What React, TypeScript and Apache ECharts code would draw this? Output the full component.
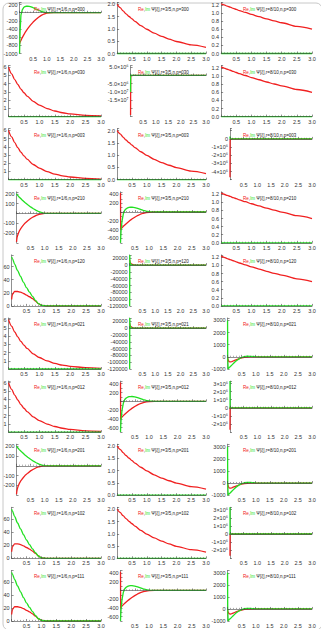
import React, { useEffect, useRef } from "react";
import * as echarts from "echarts";

const W = 321;
const H = 629;

// ---- labels ----
const ROW_NP = ["300", "030", "003", "210", "120", "021", "012", "201", "102", "111"];
const COL_R = ["1/6", "3/5", "8/10"];

// ---- curve data ----
// column 1, n,p=300
const X_A = [0, 0.01, 0.02, 0.05, 0.1, 0.15, 0.2, 0.25, 0.3, 0.35, 0.4, 0.5, 0.6, 0.7, 0.8, 0.9, 1.0, 1.1, 1.25, 1.5, 2.0, 3.0];
const RE_A = [-760, -740, -720, -680, -610, -550, -490, -438, -390, -346, -305, -230, -165, -110, -65, -32, -12, -3, 0, 0, 0, 0];
const IM_A = [-1000, -700, -450, -60, 70, 125, 150, 158, 160, 156, 148, 122, 90, 60, 33, 15, 5, 1, 0, 0, 0, 0];

// plain decays
const X_D = [0, 0.1, 0.2, 0.3, 0.4, 0.5, 0.6, 0.8, 1.0, 1.25, 1.5, 1.75, 2.0, 2.5, 3.0];
const RE_D6 = [6.0, 5.2, 4.5, 3.9, 3.35, 2.9, 2.5, 1.85, 1.4, 0.98, 0.68, 0.47, 0.33, 0.16, 0.08];
const RE_D2 = [2.0, 1.87, 1.74, 1.62, 1.51, 1.41, 1.31, 1.14, 0.99, 0.83, 0.7, 0.59, 0.49, 0.35, 0.25];
const RE_D3 = [1.23, 1.2, 1.17, 1.145, 1.115, 1.09, 1.06, 1.015, 0.965, 0.91, 0.855, 0.805, 0.76, 0.67, 0.6];
const IM_D = [0, 0, 0, 0, 0, 0, 0, 0, 0, 0, 0, 0, 0, 0, 0];

// column 1, n,p=210 / 201
const X_B = [0, 0.01, 0.02, 0.05, 0.1, 0.15, 0.2, 0.3, 0.4, 0.5, 0.6, 0.7, 0.8, 0.9, 1.0, 1.2, 1.5, 3.0];
const RE_B = [-290, -265, -245, -215, -180, -155, -135, -100, -75, -52, -35, -20, -10, -4, -1, 0, 0, 0];
const IM_B = [200, 196, 192, 181, 165, 151, 137, 110, 87, 66, 47, 31, 17, 7, 1, 0, 0, 0];

// column 1, n,p=120 / 102 / 111
const X_C = [0, 0.03, 0.1, 0.2, 0.3, 0.4, 0.5, 0.6, 0.7, 0.8, 0.9, 1.0, 1.2, 1.5, 3.0];
const RE_C = [10, 18, 22, 22, 21, 19, 16.5, 14, 11, 7.5, 3.5, 0.8, 0, 0, 0];
const IM_C = [75, 72, 64, 54, 45, 36, 28, 21, 14.5, 8.5, 3.5, 0.8, 0, 0, 0];

// column 2, n,p=210 / 012 / 111
const X_E = [0, 0.005, 0.02, 0.05, 0.1, 0.15, 0.2, 0.25, 0.3, 0.35, 0.4, 0.5, 0.6, 0.7, 0.8, 0.9, 1.0, 1.2, 1.5, 3.0];
const RE_E = [430, -400, -385, -360, -325, -295, -265, -237, -210, -184, -160, -118, -80, -50, -28, -13, -5, 0, 0, 0];
const IM_E = [-700, -600, -420, -220, -40, 40, 75, 94, 105, 109, 110, 100, 82, 60, 38, 20, 8, 0, 0, 0];

// column 2, n,p=120 / 021
const X_F = [0, 0.004, 0.01, 0.03, 0.06, 0.1, 0.2, 0.5, 3.0];
const RE_F = [15000, 12000, 9000, 6000, 4000, 2000, 500, 0, 0];
const IM_F = [-120000, 30000, 12000, 3000, 1000, 300, 0, 0, 0];

// spikes at the origin
const X_S = [0, 0.004, 0.01, 0.03, 0.1, 3.0];
const RE_G = [-24000000, -1000000, -200000, 0, 0, 0];
const IM_G = [-10000000, 500000, 100000, 0, 0, 0];
const RE_H = [-4700000, -300000, -50000, 0, 0, 0];
const IM_H = [300000, 20000, 0, 0, 0, 0];
const RE_I = [-2700000, 100000, 20000, 0, 0, 0];
const IM_I = [3300000, -100000, 0, 0, 0, 0];

// column 3, n,p=021 / 201 / 111
const X_J = [0, 0.005, 0.02, 0.05, 0.1, 0.15, 0.2, 0.25, 0.3, 0.4, 0.5, 0.6, 0.7, 0.8, 1.0, 1.2, 1.5, 3.0];
const RE_J = [0, -120, -250, -390, -420, -390, -340, -295, -250, -160, -90, -40, -15, -4, 0, 0, 0, 0];
const IM_J = [3000, 0, -1000, -900, -800, -680, -560, -450, -340, -170, -50, 25, 55, 45, 12, 0, 0, 0];

// ---- y tick values and labels ----
const YT_A = [200, 0, -200, -400, -600, -800, -1000];
const YL_A = ["200", "0", "-200", "-400", "-600", "-800", "-1000"];
const YT_B = [200, 100, -100, -200];
const YL_B = ["200", "100", "-100", "-200"];
const YT_C = [0, 20, 40, 60];
const YL_C = ["0", "20", "40", "60"];
const YT_D6 = [1, 2, 3, 4, 5, 6];
const YL_D6 = ["1", "2", "3", "4", "5", "6"];
const YT_D2 = [0, 0.5, 1, 1.5, 2];
const YL_D2 = ["0.0", "0.5", "1.0", "1.5", "2.0"];
const YT_D3 = [0, 0.2, 0.4, 0.6, 0.8, 1.0, 1.2];
const YL_D3 = ["0.0", "0.2", "0.4", "0.6", "0.8", "1.0", "1.2"];
const YT_E = [400, 200, -200, -400, -600];
const YL_E = ["400", "200", "-200", "-400", "-600"];
const YT_F = [20000, 0, -20000, -40000, -60000, -80000, -100000, -120000];
const YL_F = ["20000", "0", "-20000", "-40000", "-60000", "-80000", "-100000", "-120000"];
const YT_G = [5000000, -5000000, -10000000, -15000000];
const YL_G = ["5.0×10⁶", "-5.0×10⁶", "-1.0×10⁷", "-1.5×10⁷"];
const YT_H = [0, -1000000, -2000000, -3000000, -4000000];
const YL_H = ["0", "-1×10⁶", "-2×10⁶", "-3×10⁶", "-4×10⁶"];
const YT_I = [3000000, 2000000, 1000000, 0, -1000000, -2000000];
const YL_I = ["3×10⁶", "2×10⁶", "1×10⁶", "0", "-1×10⁶", "-2×10⁶"];
const YT_J = [3000, 2000, 1000, 0, -1000];
const YL_J = ["3000", "2000", "1000", "0", "-1000"];

const X_TICKS = [0.5, 1.0, 1.5, 2.0, 2.5, 3.0];

type Shape = {
  x: number[]; re: number[]; im: number[];
  min: number; max: number; step: number;
  ticks: number[]; labels: string[]; smooth: number;
};

const SHAPES: Record<string, Shape> = {
  A: { x: X_A, re: RE_A, im: IM_A, min: -1000, max: 250, step: 200, ticks: YT_A, labels: YL_A, smooth: 0 },
  B: { x: X_B, re: RE_B, im: IM_B, min: -300, max: 220, step: 100, ticks: YT_B, labels: YL_B, smooth: 0 },
  C: { x: X_C, re: RE_C, im: IM_C, min: 0, max: 78, step: 20, ticks: YT_C, labels: YL_C, smooth: 0.3 },
  D6: { x: X_D, re: RE_D6, im: IM_D, min: 0, max: 6.2, step: 1, ticks: YT_D6, labels: YL_D6, smooth: 0.3 },
  D2: { x: X_D, re: RE_D2, im: IM_D, min: 0, max: 2.08, step: 0.5, ticks: YT_D2, labels: YL_D2, smooth: 0.3 },
  D3: { x: X_D, re: RE_D3, im: IM_D, min: 0, max: 1.26, step: 0.2, ticks: YT_D3, labels: YL_D3, smooth: 0.3 },
  E: { x: X_E, re: RE_E, im: IM_E, min: -700, max: 460, step: 100, ticks: YT_E, labels: YL_E, smooth: 0 },
  F: { x: X_F, re: RE_F, im: IM_F, min: -120000, max: 30000, step: 20000, ticks: YT_F, labels: YL_F, smooth: 0 },
  G: { x: X_S, re: RE_G, im: IM_G, min: -25000000, max: 6000000, step: 5000000, ticks: YT_G, labels: YL_G, smooth: 0 },
  H: { x: X_S, re: RE_H, im: IM_H, min: -5000000, max: 1250000, step: 1000000, ticks: YT_H, labels: YL_H, smooth: 0 },
  I: { x: X_S, re: RE_I, im: IM_I, min: -3000000, max: 3300000, step: 1000000, ticks: YT_I, labels: YL_I, smooth: 0 },
  J: { x: X_J, re: RE_J, im: IM_J, min: -1000, max: 3200, step: 1000, ticks: YT_J, labels: YL_J, smooth: 0 },
};

// which curve family each panel shows (rows = n,p ; columns = r)
const PANEL_SHAPES = [
  ["A", "D2", "D3"],
  ["D6", "G", "D3"],
  ["D6", "D2", "H"],
  ["B", "E", "D3"],
  ["C", "F", "D3"],
  ["D6", "F", "J"],
  ["D6", "E", "I"],
  ["B", "D2", "J"],
  ["C", "D2", "I"],
  ["C", "E", "J"],
];

// ---- layout ----
const ROW_H = 63.1;
const PLOT_TOP = 2.5;
const PLOT_H = 51;
const COL_X0 = [3, 107, 211];
const COL_PLOT_RIGHT = [101, 206, 312];
const TITLE_LEFT = [34, 138, 243];
const FONT = '"Liberation Sans", Arial, sans-serif';
const FS = 5.5;
const RED = "#f02020";
const GREEN = "#22e022";
const AXIS = "#444";

function buildOption() {
  const canvas = document.createElement("canvas");
  const ctx = canvas.getContext("2d")!;
  ctx.font = `${FS}px "Liberation Sans"`;

  const grid: any[] = [];
  const xAxis: any[] = [];
  const yAxis: any[] = [];
  const series: any[] = [];
  const title: any[] = [];

  let k = 0;
  for (let r = 0; r < ROW_NP.length; r++) {
    for (let c = 0; c < COL_R.length; c++) {
      const s = SHAPES[PANEL_SHAPES[r][c]];
      const labW = Math.max(...s.labels.map((l) => ctx.measureText(l).width));
      const left = COL_X0[c] + labW + 2.5;
      const top = PLOT_TOP + r * ROW_H;
      grid.push({ left, top, width: COL_PLOT_RIGHT[c] - left, height: PLOT_H, containLabel: false });
      xAxis.push({
        gridIndex: k, type: "value", min: 0, max: 3, interval: 0.5, z: 5,
        axisLine: { show: true, onZero: true, lineStyle: { color: AXIS, width: 0.6 } },
        axisTick: { show: true, inside: true, length: 2, lineStyle: { color: AXIS, width: 0.6 } },
        minorTick: { show: true, splitNumber: 5, length: 1.1, lineStyle: { color: AXIS, width: 0.5 } },
        splitLine: { show: false },
        axisLabel: {
          fontSize: FS, fontFamily: FONT, color: "#333", margin: 2,
          formatter: (v: number) => {
            const i = X_TICKS.findIndex((t) => Math.abs(t - v) < 1e-6);
            return i >= 0 ? X_TICKS[i].toFixed(1) : "";
          },
        },
      });
      const tol = s.step * 1e-3;
      yAxis.push({
        gridIndex: k, type: "value", min: s.min, max: s.max, interval: s.step, z: 1,
        axisLine: { show: true, onZero: true, lineStyle: { color: AXIS, width: 0.6 } },
        axisTick: { show: true, inside: true, length: 2, lineStyle: { color: AXIS, width: 0.6 } },
        splitLine: { show: false },
        axisLabel: {
          fontSize: FS, fontFamily: FONT, color: "#333", margin: 2,
          formatter: (v: number) => {
            const i = s.ticks.findIndex((t) => Math.abs(t - v) < tol);
            return i >= 0 ? s.labels[i] : "";
          },
        },
      });
      const curves: [number[], string, number][] = [
        [s.re, RED, 2],
        [s.im, GREEN, 3],
      ];
      for (const [vals, color, z] of curves) {
        series.push({
          type: "line", xAxisIndex: k, yAxisIndex: k, silent: true,
          showSymbol: false, clip: false, z,
          smooth: s.smooth ? s.smooth : false,
          smoothMonotone: s.smooth ? "x" : undefined,
          lineStyle: { color, width: 1.3 },
          data: s.x.map((x, j) => [x, vals[j]]),
        });
      }
      title.push({
        left: TITLE_LEFT[c], top: top + 4,
        text: `{r|Re},{g|Im} Ψ[ξ],r=${COL_R[c]},n,p=${ROW_NP[r]}`,
        padding: 0, z: 6,
        textStyle: {
          fontSize: 4.5, fontFamily: FONT, fontWeight: "normal", color: "#222",
          rich: {
            r: { color: RED, fontSize: 4.5, fontFamily: FONT },
            g: { color: GREEN, fontSize: 4.5, fontFamily: FONT },
          },
        },
      });
      k++;
    }
  }

  return {
    animation: false,
    backgroundColor: "#ffffff",
    title,
    grid,
    xAxis,
    yAxis,
    series,
    graphic: [
      {
        type: "rect", left: 0.5, top: 0.5, silent: true, z: -1,
        shape: { width: W - 2, height: H - 2, r: 6 },
        style: { fill: "none", stroke: "#c8c8c8", lineWidth: 1 },
      },
    ],
  };
}

export default function App() {
  const ref = useRef<HTMLDivElement>(null);
  useEffect(() => {
    if (!ref.current) return;
    const chart = echarts.init(ref.current, undefined, { renderer: "svg" });
    chart.setOption(buildOption() as any);
    return () => chart.dispose();
  }, []);
  return (
    <div
      ref={ref}
      style={{ position: "fixed", left: 0, top: 0, width: W, height: H, background: "#fff" }}
    />
  );
}
